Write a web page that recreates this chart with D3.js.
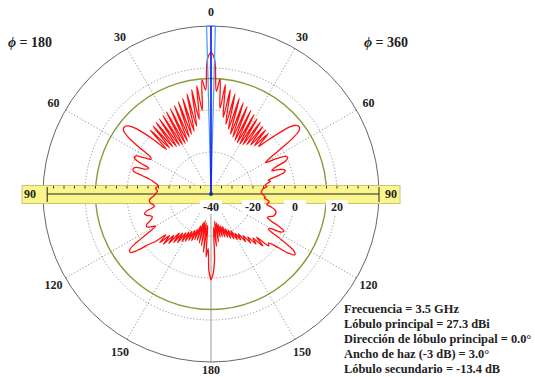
<!DOCTYPE html>
<html>
<head>
<meta charset="utf-8">
<script src="https://cdn.jsdelivr.net/npm/d3@7"></script>
<style>
body { margin: 0; background: #fff; }
svg text { font-family: 'Liberation Serif', 'Times New Roman', serif; font-weight: bold; fill: #222; }
</style>
</head>
<body>
<div id="chart"></div>
<script>
var width = 535, height = 377;
var center = { x: 211, y: 194 };
var outerR = 168;

// theta goes 0..180 deg in 1.5 deg steps
var thetaStep = 1.5;
// phi = 360 (right half), dB
var gainPhi360 = [
	27.3, 24.3, 9, 15, 1, 12.5, -3, 10.5, -6, 9,
	-8, 7.5, -10, 6, -11, 5, -12, 4, -12.5, 3,
	-12.5, 2, -12, 1.5, -11, 0.5, -10, 0, -9, -0.5,
	-8, -3, 3, 9, 12, 12.8, 12, 8, 0, -7,
	-10, -5, -0.5, 0.5, -1, -7, -9, -5, -3, -3.5,
	-8, -12, -11, -13, -14, -13, -15, -15.5, -16, -16,
	-15.5, -15, -14, -14.5, -13, -12, -12.5, -13, -11, -9,
	-8, -7.8, -8, -8.5, -10, -11, -9, -4, -1, -2,
	-7, -8, 0, 8, 9.3, 6, -1, -4, -3, -10,
	-5, -11, -8, -13, -10, -15, -12, -17, -14, -18,
	-15, -20, -16, -21, -17, -22, -18, -23.5, -18.5, -24,
	-19, -25, -19, -26, -17, -27, -15, -24, -8, -2,
	1
];
// phi = 180 (left half), dB
var gainPhi180 = [
	27.3, 24.3, 9.5, 14.5, 0, 12, -4, 10.5, -7, 9,
	-9, 7.5, -10, 6.5, -11, 5.5, -12.5, 5, -13, 4.5,
	-13, 4, -12.5, 3.5, -12, 3, -11, 2.5, -10.5, 2,
	-10, -3, 4, 9, 11.5, 12.2, 11.5, 8, 1, -6,
	-7, -4, 0, 0.5, -2, -8, -7, -2, -1, -1.5,
	-6, -10, -12, -13.5, -14.5, -14, -13.5, -14, -14.5, -14,
	-13.5, -13, -12, -11, -10.5, -10.6, -11, -12, -12.5, -11,
	-8, -7, -7.5, -9, -10, -9.5, -8, -6, -5.7, -7,
	-9.5, -6, 2, 7, 7.4, 4, -2, -5.2, -11, -6.5,
	-12, -7, -13.5, -9, -16, -11, -17, -12, -18, -13.5,
	-19, -14.5, -20, -15.5, -21, -16, -22, -17, -24, -17,
	-26, -16, -27, -15, -26, -12, -25, -10, -14, -3,
	1
];
var ringValues = [-20, 0, 20];
var radialLabels = [-40, -20, 0, 20];
var angleLabels = [0, 30, 60, 90, 120, 150, 180];
var sideLobeLevel = 15;
var beamHalf = 1.5;
var infoLines = [
	'Frecuencia = 3.5 GHz',
	'Lóbulo principal = 27.3 dBi',
	'Dirección de lóbulo principal = 0.0°',
	'Ancho de haz (-3 dB) = 3.0°',
	'Lóbulo secundario = -13.4 dB'
];

var rScale = d3.scaleLinear().domain([-40, 40]).range([0, outerR]);
var rad = d => d * Math.PI / 180;

var svg = d3.select('#chart').append('svg')
	.attr('width', width)
	.attr('height', height);

var g = svg.append('g')
	.attr('transform', 'translate(' + center.x + ',' + center.y + ')');

// grid rings
g.selectAll('.ring')
	.data(ringValues)
	.enter()
	.append('circle')
	.attr('r', d => rScale(d))
	.attr('fill', 'none')
	.attr('stroke', '#888')
	.attr('stroke-width', 0.9)
	.attr('stroke-dasharray', '1.2,2');

// spokes every 30 deg
var spokes = [30, 60, 120, 150, -30, -60, -120, -150];
g.selectAll('.spoke')
	.data(spokes)
	.enter()
	.append('line')
	.attr('x1', 0).attr('y1', 0)
	.attr('x2', d => outerR * Math.sin(rad(d)))
	.attr('y2', d => -outerR * Math.cos(rad(d)))
	.attr('stroke', '#888')
	.attr('stroke-width', 0.9)
	.attr('stroke-dasharray', '1.2,2');

g.append('line')
	.attr('x1', 0).attr('y1', 0)
	.attr('x2', 0).attr('y2', outerR)
	.attr('stroke', '#999')
	.attr('stroke-width', 1);

// outer circle
g.append('circle')
	.attr('r', outerR)
	.attr('fill', 'none')
	.attr('stroke', '#666')
	.attr('stroke-width', 1);

// side lobe level circle
g.append('circle')
	.attr('r', rScale(sideLobeLevel))
	.attr('fill', 'none')
	.attr('stroke', '#8a9a3c')
	.attr('stroke-width', 1.4);

// yellow band (radial axis)
g.append('rect')
	.attr('x', -189).attr('y', -8.5)
	.attr('width', 378).attr('height', 18)
	.attr('fill', '#fbf68c')
	.attr('stroke', '#c9c27a')
	.attr('stroke-width', 1);

g.append('line')
	.attr('x1', -rScale(38)).attr('x2', outerR)
	.attr('y1', 0).attr('y2', 0)
	.attr('stroke', '#222')
	.attr('stroke-width', 1);

var tickVals = d3.range(-35, 40, 5);
g.selectAll('.tickR')
	.data(tickVals)
	.enter()
	.append('line')
	.attr('x1', d => rScale(d)).attr('x2', d => rScale(d))
	.attr('y1', -8).attr('y2', -5.5)
	.attr('stroke', '#333')
	.attr('stroke-width', 1);
g.selectAll('.tickL')
	.data(tickVals)
	.enter()
	.append('line')
	.attr('x1', d => -rScale(d)).attr('x2', d => -rScale(d))
	.attr('y1', -8).attr('y2', -5.5)
	.attr('stroke', '#333')
	.attr('stroke-width', 1);

g.selectAll('.endTick')
	.data([-rScale(38), outerR])
	.enter()
	.append('line')
	.attr('x1', d => d).attr('x2', d => d)
	.attr('y1', -7).attr('y2', 8)
	.attr('stroke', '#222')
	.attr('stroke-width', 1);

// radiation pattern
var pattern = [];
for (let i = gainPhi180.length - 1; i > 0; --i) {
	pattern.push([-i * thetaStep, gainPhi180[i]]);
}
for (let i = 0; i < gainPhi360.length; ++i) {
	pattern.push([i * thetaStep, gainPhi360[i]]);
}

var radial = d3.lineRadial()
	.angle(d => rad(d[0]))
	.radius(d => rScale(d[1]))
	.curve(d3.curveCatmullRom.alpha(0.5));

g.append('path')
	.datum(pattern)
	.attr('d', radial)
	.attr('fill', 'none')
	.attr('stroke', '#ff1010')
	.attr('stroke-width', 1.3);

// beam markers
g.selectAll('.beamEdge')
	.data([-beamHalf, beamHalf])
	.enter()
	.append('line')
	.attr('x1', 0).attr('y1', 0)
	.attr('x2', d => outerR * Math.sin(rad(d)))
	.attr('y2', d => -outerR * Math.cos(rad(d)))
	.attr('stroke', '#3f9cff')
	.attr('stroke-width', 1.2);
g.append('line')
	.attr('x1', -outerR * Math.sin(rad(beamHalf))).attr('x2', outerR * Math.sin(rad(beamHalf)))
	.attr('y1', -outerR * Math.cos(rad(beamHalf))).attr('y2', -outerR * Math.cos(rad(beamHalf)))
	.attr('stroke', '#3f9cff')
	.attr('stroke-width', 1.2);
g.append('line')
	.attr('x1', 0).attr('y1', 0)
	.attr('x2', 0).attr('y2', -outerR)
	.attr('stroke', '#1010ee')
	.attr('stroke-width', 1.6);
g.append('circle')
	.attr('r', 2)
	.attr('fill', '#113388');

// radial labels with white boxes
var rl = g.selectAll('.rlabel')
	.data(radialLabels)
	.enter()
	.append('g')
	.attr('transform', d => 'translate(' + rScale(d) + ',13)');
rl.append('rect')
	.attr('x', -11).attr('y', -7)
	.attr('width', 22).attr('height', 14)
	.attr('fill', '#fff');
rl.append('text')
	.attr('text-anchor', 'middle')
	.attr('dy', '0.35em')
	.style('font-size', '12px')
	.text(String);

// angle labels
var labR = 182;
var angLab = [];
angleLabels.forEach(a => {
	if (a == 0) angLab.push({ a: a, t: a, r: labR });
	else if (a == 180) angLab.push({ a: a, t: a, r: 176 });
	else if (a != 90) { angLab.push({ a: a, t: a, r: labR }); angLab.push({ a: -a, t: a, r: labR }); }
});
g.selectAll('.alabel')
	.data(angLab)
	.enter()
	.append('text')
	.attr('x', d => d.r * Math.sin(rad(d.a)))
	.attr('y', d => -d.r * Math.cos(rad(d.a)))
	.attr('text-anchor', 'middle')
	.attr('dy', '0.35em')
	.style('font-size', '12px')
	.text(d => d.t);
g.selectAll('.l90')
	.data([-181, 180])
	.enter()
	.append('text')
	.attr('x', d => d)
	.attr('y', 0)
	.attr('text-anchor', 'middle')
	.attr('dy', '0.35em')
	.style('font-size', '12px')
	.text('90');

// phi titles
svg.selectAll('.phi')
	.data([{ x: 8, t: '180' }, { x: 364, t: '360' }])
	.enter()
	.append('text')
	.attr('x', d => d.x)
	.attr('y', 47)
	.style('font-size', '14px')
	.html(d => '<tspan font-style="italic">ϕ</tspan> = ' + d.t);

// info block
svg.selectAll('.info')
	.data(infoLines)
	.enter()
	.append('text')
	.attr('x', 344)
	.attr('y', (d, i) => 313 + i * 15)
	.style('font-size', '12.4px')
	.text(String);
</script>
</body>
</html>
